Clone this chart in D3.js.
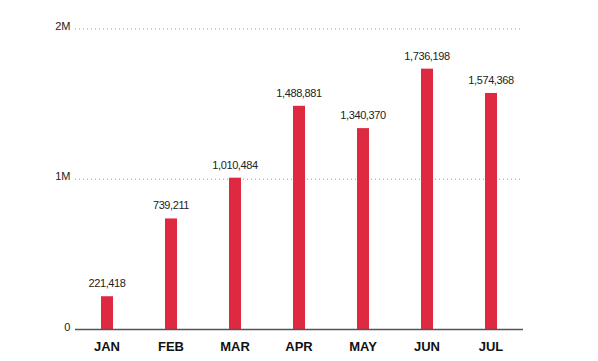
<!DOCTYPE html>
<html><head><meta charset="utf-8">
<script src="https://cdn.jsdelivr.net/npm/d3@7"></script>
<style>body{margin:0;background:#fff}svg{display:block}</style>
</head><body>
<svg id="c" width="598" height="361"></svg>
<script>
const months = ["JAN","FEB","MAR","APR","MAY","JUN","JUL"];
const values = [221418, 739211, 1010484, 1488881, 1340370, 1736198, 1574368];
const ticks = [0, 1000000, 2000000];
const tickLabels = ["0", "1M", "2M"];

const svg = d3.select("#c");
const x = d3.scaleBand().domain(months).range([75, 523]).padding(0);
const y = d3.scaleLinear().domain([0, 2000000]).range([329.5, 29]);
const fmt = d3.format(",");
const font = "'Liberation Sans', Arial, sans-serif";

// gridlines
svg.append("g").selectAll("line").data(ticks.slice(1)).join("line")
  .attr("x1", 75).attr("x2", 523)
  .attr("y1", d => y(d)).attr("y2", d => y(d))
  .attr("stroke", "#9a9a9a").attr("stroke-width", 1).attr("stroke-dasharray", "1,3");

// tick labels
svg.append("g").selectAll("text").data(ticks).join("text")
  .attr("x", 70).attr("y", d => y(d) + 1)
  .attr("text-anchor", "end")
  .attr("font-family", font).attr("font-size", 11).attr("fill", "#222")
  .attr("letter-spacing", "-0.3")
  .text((d, i) => tickLabels[i]);

// bars
const bw = 12;
svg.append("g").selectAll("rect").data(values).join("rect")
  .attr("x", (d, i) => x(months[i]) + x.bandwidth() / 2 - bw / 2)
  .attr("width", bw)
  .attr("y", d => y(d))
  .attr("height", d => y(0) - y(d))
  .attr("fill", "#dd2a41");

// value labels
svg.append("g").selectAll("text").data(values).join("text")
  .attr("x", (d, i) => x(months[i]) + x.bandwidth() / 2)
  .attr("y", d => y(d) - 9)
  .attr("text-anchor", "middle")
  .attr("font-family", font).attr("font-size", 11).attr("fill", "#222")
  .attr("letter-spacing", "-0.4")
  .text(d => fmt(d));

// axis line
svg.append("line").attr("x1", 75).attr("x2", 523)
  .attr("y1", y(0)).attr("y2", y(0))
  .attr("stroke", "#555").attr("stroke-width", 1.5);

// month labels
svg.append("g").selectAll("text").data(months).join("text")
  .attr("x", d => x(d) + x.bandwidth() / 2)
  .attr("y", 351)
  .attr("text-anchor", "middle")
  .attr("font-family", font).attr("font-size", 13).attr("font-weight", "bold").attr("fill", "#111")
  .text(d => d);
</script>
</body></html>
